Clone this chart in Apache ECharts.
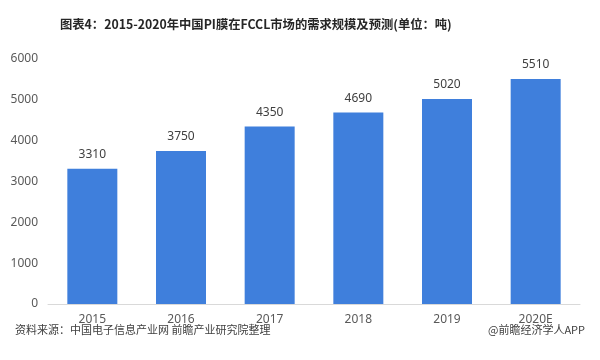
<!DOCTYPE html>
<html><head><meta charset="utf-8">
<script src="https://cdn.jsdelivr.net/npm/echarts@6/dist/echarts.min.js"></script>
<style>html,body{margin:0;padding:0;background:#fff}#c{width:600px;height:360px}</style>
</head><body><div id="c"></div>
<script>
const categories = ['2015','2016','2017','2018','2019','2020E'];
const values = [3310, 3750, 4350, 4690, 5020, 5510];
const yTicks = [0,1000,2000,3000,4000,5000,6000];
const titleText = '图表4：2015-2020年中国PI膜在FCCL市场的需求规模及预测(单位：吨)';
const sourceText = '资料来源：中国电子信息产业网 前瞻产业研究院整理';
const creditText = '@前瞻经济学人APP';

const chart = echarts.init(document.getElementById('c'));
chart.setOption({
  backgroundColor: '#fff',
  animation: false,
  title: [
    {text: titleText, left: 55, top: 13,
     textStyle: {fontFamily: 'Noto Sans CJK SC', fontSize: 12.3, fontWeight: 'bold', color: '#262626'}},
    {text: sourceText, left: 10, top: 319,
     textStyle: {fontFamily: 'Noto Sans CJK SC', fontSize: 11, fontWeight: 'normal', color: '#404040'}},
    {text: creditText, right: 10, top: 319,
     textStyle: {fontFamily: 'Noto Sans CJK SC', fontSize: 11, fontWeight: 'normal', color: '#404040'}}
  ],
  grid: {left: 48, right: 20, top: 59, bottom: 56, containLabel: false},
  xAxis: {type: 'category', data: categories,
    axisLine: {lineStyle: {color: '#d9d9d9'}}, axisTick: {show: false},
    axisLabel: {color: '#595959', fontSize: 12, margin: 10, fontFamily: 'Noto Sans'}},
  yAxis: {type: 'value', min: yTicks[0], max: yTicks[yTicks.length-1], interval: 1000,
    axisLine: {show: false}, axisTick: {show: false}, splitLine: {show: false},
    axisLabel: {color: '#595959', fontSize: 12, margin: 10, fontFamily: 'Noto Sans', formatter: v => String(v)}},
  series: [{type: 'bar', data: values, barWidth: 50,
    itemStyle: {color: '#3f7fdc'},
    label: {show: true, position: 'top', distance: 8, color: '#404040', fontSize: 12, fontFamily: 'Noto Sans'}}]
});
</script></body></html>
